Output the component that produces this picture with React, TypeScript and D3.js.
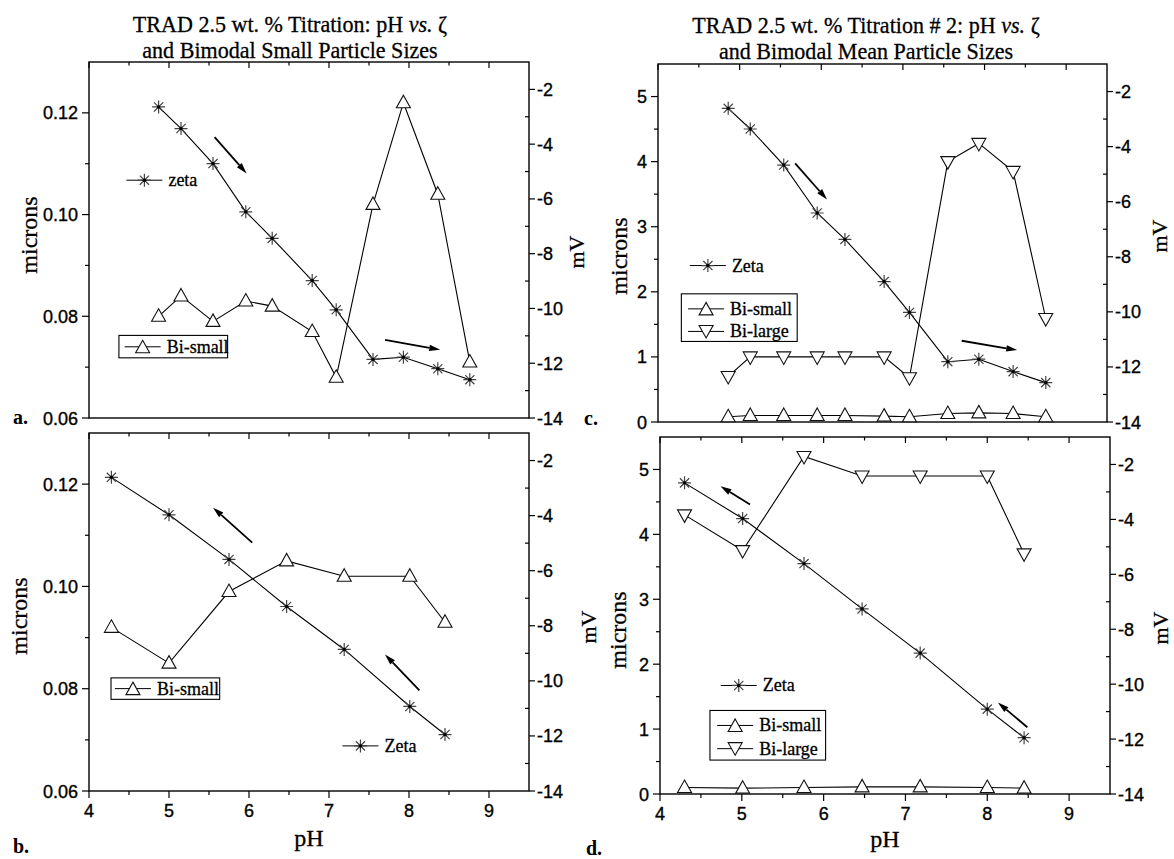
import React from 'react';
import * as d3 from 'd3';

// panel a: titration, zeta + bimodal small
const phA = [4.87, 5.15, 5.55, 5.96, 6.29, 6.79, 7.09, 7.55, 7.93, 8.36, 8.76];
const zetaA = [-2.64, -3.43, -4.71, -6.47, -7.44, -8.98, -10.05, -11.86, -11.78, -12.2, -12.6];
const smallA = [0.080, 0.084, 0.079, 0.083, 0.082, 0.077, 0.068, 0.102, 0.122, 0.104, 0.071];

// panel b: back titration
const phB = [4.28, 5.0, 5.75, 6.47, 7.19, 8.01, 8.45];
const zetaB = [-2.61, -3.97, -5.59, -7.3, -8.86, -10.93, -11.95];
const smallB = [0.092, 0.085, 0.099, 0.105, 0.102, 0.102, 0.093];

// panel c: titration # 2
const phC = [4.86, 5.13, 5.54, 5.95, 6.29, 6.77, 7.08, 7.55, 7.93, 8.35, 8.75];
const zetaC = [-2.61, -3.36, -4.67, -6.41, -7.37, -8.9, -10.02, -11.81, -11.72, -12.17, -12.57];
const smallC = [0.08, 0.1, 0.1, 0.1, 0.1, 0.09, 0.08, 0.13, 0.14, 0.13, 0.08];
const largeC = [0.7, 1.0, 1.0, 1.0, 1.0, 1.0, 0.68, 4.0, 4.28, 3.85, 1.59];

// panel d: back titration # 2
const phD = [4.3, 5.01, 5.76, 6.47, 7.18, 8.0, 8.45];
const zetaD = [-2.67, -3.97, -5.61, -7.26, -8.87, -10.91, -11.95];
const smallD = [0.1, 0.09, 0.1, 0.11, 0.11, 0.1, 0.09];
const largeD = [4.3, 3.75, 5.2, 4.9, 4.9, 4.9, 3.7];

// ticks
const phTicks = [4, 5, 6, 7, 8, 9];
const phMinor = [4.5, 5.5, 6.5, 7.5, 8.5];
const mvTicks = [-14, -12, -10, -8, -6, -4, -2];
const mvMinor = [-13, -11, -9, -7, -5, -3];
const micronTicksAB = [0.06, 0.08, 0.10, 0.12];
const micronMinorAB = [0.07, 0.09, 0.11];
const micronTicksCD = [0, 1, 2, 3, 4, 5];
const micronMinorCD = [0.5, 1.5, 2.5, 3.5, 4.5];

// arrows: [pH0, mV0, pH1, mV1]
const arrowsA = [[5.57, -3.74, 5.97, -5.07], [7.70, -11.15, 8.39, -11.51]];
const arrowsB = [[6.04, -4.98, 5.55, -3.71], [8.13, -10.35, 7.70, -9.04]];
const arrowsC = [[5.68, -4.61, 6.07, -5.92], [7.72, -11.05, 8.40, -11.39]];
const arrowsD = [[5.10, -3.46, 4.74, -2.79], [8.49, -11.57, 8.13, -10.67]];

const sans = "'Liberation Sans', Arial, sans-serif";
const serif = "'Liberation Serif', 'Times New Roman', serif";

const panels = [
  {
    box: [89, 62, 529, 418], yDomain: [0.06, 0.13], yTicks: micronTicksAB, yMinor: micronMinorAB,
    fmt: d3.format('.2f'), ph: phA, zeta: zetaA, small: smallA, large: null, arrows: arrowsA,
    bottom: false, zetaLeg: { x: 0.085, y: 0.332, label: 'zeta' },
    box2: { x0: 0.068, y0: 0.768, x1: 0.315, y1: 0.831, lx: 0.081, rows: [0.80] },
    letter: 'a.', letterPos: [13, 424],
    micronsPos: [29, 235], mvPos: [576, 252], phPos: null,
  },
  {
    box: [89, 433, 529, 791], yDomain: [0.06, 0.13], yTicks: micronTicksAB, yMinor: micronMinorAB,
    fmt: d3.format('.2f'), ph: phB, zeta: zetaB, small: smallB, large: null, arrows: arrowsB,
    bottom: true, zetaLeg: { x: 0.576, y: 0.874, label: 'Zeta' },
    box2: { x0: 0.050, y0: 0.684, x1: 0.297, y1: 0.744, lx: 0.059, rows: [0.714] },
    letter: 'b.', letterPos: [13, 853],
    micronsPos: [19, 616], mvPos: [588, 627], phPos: [309, 846],
  },
  {
    box: [658, 64, 1107, 422], yDomain: [0, 5.5], yTicks: micronTicksCD, yMinor: micronMinorCD,
    fmt: d3.format('d'), ph: phC, zeta: zetaC, small: smallC, large: largeC, arrows: arrowsC,
    bottom: false, zetaLeg: { x: 0.071, y: 0.563, label: 'Zeta' },
    box2: { x0: 0.052, y0: 0.642, x1: 0.310, y1: 0.775, lx: 0.067, rows: [0.684, 0.747] },
    letter: 'c.', letterPos: [584, 425],
    micronsPos: [619, 256], mvPos: [1159, 236], phPos: null,
  },
  {
    box: [660, 437, 1110, 794], yDomain: [0, 5.5], yTicks: micronTicksCD, yMinor: micronMinorCD,
    fmt: d3.format('d'), ph: phD, zeta: zetaD, small: smallD, large: largeD, arrows: arrowsD,
    bottom: true, zetaLeg: { x: 0.135, y: 0.696, label: 'Zeta' },
    box2: { x0: 0.111, y0: 0.766, x1: 0.368, y1: 0.905, lx: 0.127, rows: [0.808, 0.873] },
    letter: 'd.', letterPos: [586, 855],
    micronsPos: [618, 630], mvPos: [1160, 628], phPos: [885, 847],
  },
];

function starPath(cx, cy, r = 6.5) {
  const p = d3.path();
  [0, 45, 90, 135].forEach(a => {
    const t = (a * Math.PI) / 180;
    p.moveTo(cx + r * Math.cos(t), cy + r * Math.sin(t));
    p.lineTo(cx - r * Math.cos(t), cy - r * Math.sin(t));
  });
  return p.toString();
}

function triPath(cx, cy, up) {
  const s = up ? 1 : -1;
  return `M${cx},${cy - 7.5 * s}L${cx + 7},${cy + 5 * s}L${cx - 7},${cy + 5 * s}Z`;
}

function Star({ x, y }) {
  return (
    <g>
      <path d={starPath(x, y)} stroke="#444" strokeWidth={1.2} fill="none" />
      <circle cx={x} cy={y} r={1.7} fill="#000" />
    </g>
  );
}

function Tri({ x, y, up }) {
  return <path d={triPath(x, y, up)} fill="#fff" stroke="#111" strokeWidth={1.1} />;
}

function Arrow({ x0, y0, x1, y1 }) {
  const a = Math.atan2(y1 - y0, x1 - x0);
  const len = 11, hw = 3.2;
  const bx = x1 - len * Math.cos(a), by = y1 - len * Math.sin(a);
  const nx = -Math.sin(a), ny = Math.cos(a);
  return (
    <g>
      <line x1={x0} y1={y0} x2={bx} y2={by} stroke="#000" strokeWidth={1.8} />
      <path d={`M${x1},${y1}L${bx + nx * hw},${by + ny * hw}L${bx - nx * hw},${by - ny * hw}Z`} fill="#000" />
    </g>
  );
}

const tickText = { fontFamily: sans, fontSize: 18, stroke: '#000', strokeWidth: 0.35 };
const serifText = { fontFamily: serif, stroke: '#000', strokeWidth: 0.3 };

function Panel({ p }) {
  const [L, T, R, B] = p.box;
  const w = R - L, h = B - T;
  const x = d3.scaleLinear().domain([4, 9.5]).range([L, R]);
  const yl = d3.scaleLinear().domain(p.yDomain).range([B, T]);
  const yr = d3.scaleLinear().domain([-14, -1]).range([B, T]);
  const line = d3.line();

  const zetaPts = p.ph.map((v, i) => [x(v), yr(p.zeta[i])]);
  const smallPts = p.ph.map((v, i) => [x(v), yl(p.small[i])]);
  const largePts = p.large ? p.ph.map((v, i) => [x(v), yl(p.large[i])]) : null;

  const zl = { x: L + p.zetaLeg.x * w, y: T + p.zetaLeg.y * h };
  const bx = p.box2;
  const legRows = [{ label: 'Bi-small', up: true }, { label: 'Bi-large', up: false }].slice(0, bx.rows.length);

  return (
    <g>
      {/* frame */}
      <rect x={L} y={T} width={w} height={h} fill="none" stroke="#000" strokeWidth={1.4} />

      {/* top ticks, inward */}
      {phTicks.map(t => <line key={'tt' + t} x1={x(t)} x2={x(t)} y1={T} y2={T + 6} stroke="#000" strokeWidth={1.2} />)}
      {phMinor.map(t => <line key={'tm' + t} x1={x(t)} x2={x(t)} y1={T} y2={T + 3.5} stroke="#000" strokeWidth={1.2} />)}

      {/* bottom ticks + labels */}
      {p.bottom && phTicks.map(t => (
        <g key={'bt' + t}>
          <line x1={x(t)} x2={x(t)} y1={B} y2={B + 7} stroke="#000" strokeWidth={1.2} />
          <text x={x(t)} y={B + 26} textAnchor="middle" {...tickText}>{t}</text>
        </g>
      ))}
      {p.bottom && phMinor.map(t => <line key={'bm' + t} x1={x(t)} x2={x(t)} y1={B} y2={B + 4} stroke="#000" strokeWidth={1.2} />)}

      {/* left axis */}
      {p.yTicks.map(t => (
        <g key={'lt' + t}>
          <line x1={L - 7} x2={L} y1={yl(t)} y2={yl(t)} stroke="#000" strokeWidth={1.2} />
          <text x={L - 11} y={yl(t) + 6.5} textAnchor="end" {...tickText}>{p.fmt(t)}</text>
        </g>
      ))}
      {p.yMinor.map(t => <line key={'lm' + t} x1={L - 4} x2={L} y1={yl(t)} y2={yl(t)} stroke="#000" strokeWidth={1.2} />)}

      {/* right axis */}
      {mvTicks.map(t => (
        <g key={'rt' + t}>
          <line x1={R} x2={R + 6} y1={yr(t)} y2={yr(t)} stroke="#000" strokeWidth={1.2} />
          <text x={R + 8} y={yr(t) + 6.5} textAnchor="start" {...tickText}>{String(t)}</text>
        </g>
      ))}
      {mvMinor.map(t => <line key={'rm' + t} x1={R - 4} x2={R} y1={yr(t)} y2={yr(t)} stroke="#000" strokeWidth={1.2} />)}

      {/* series lines */}
      {largePts && <path d={line(largePts)} fill="none" stroke="#000" strokeWidth={1.1} />}
      <path d={line(smallPts)} fill="none" stroke="#000" strokeWidth={1.1} />
      <path d={line(zetaPts)} fill="none" stroke="#000" strokeWidth={1.1} />

      {/* markers */}
      {largePts && largePts.map((d, i) => <Tri key={'lg' + i} x={d[0]} y={d[1]} up={false} />)}
      {smallPts.map((d, i) => <Tri key={'sm' + i} x={d[0]} y={d[1]} up={true} />)}
      {zetaPts.map((d, i) => <Star key={'z' + i} x={d[0]} y={d[1]} />)}

      {/* arrows */}
      {p.arrows.map((a, i) => <Arrow key={'ar' + i} x0={x(a[0])} y0={yr(a[1])} x1={x(a[2])} y1={yr(a[3])} />)}

      {/* zeta legend */}
      <line x1={zl.x} x2={zl.x + 36} y1={zl.y} y2={zl.y} stroke="#000" strokeWidth={1} />
      <Star x={zl.x + 18} y={zl.y} />
      <text x={zl.x + 42} y={zl.y + 6} fontSize={18} {...serifText}>{p.zetaLeg.label}</text>

      {/* size legend box */}
      <rect x={L + bx.x0 * w} y={T + bx.y0 * h} width={(bx.x1 - bx.x0) * w} height={(bx.y1 - bx.y0) * h}
        fill="#fff" stroke="#000" strokeWidth={1.1} />
      {legRows.map((r, i) => {
        const lx = L + bx.lx * w, ly = T + bx.rows[i] * h;
        return (
          <g key={'lr' + i}>
            <line x1={lx} x2={lx + 36} y1={ly} y2={ly} stroke="#000" strokeWidth={1} />
            <Tri x={lx + 18} y={ly + (r.up ? 1 : -1)} up={r.up} />
            <text x={lx + 42} y={ly + 6} fontSize={18} {...serifText}>{r.label}</text>
          </g>
        );
      })}

      {/* axis titles */}
      <text transform={`translate(${p.micronsPos[0]},${p.micronsPos[1]}) rotate(-90)`} textAnchor="middle"
        dominantBaseline="central" fontSize={24} {...serifText}>microns</text>
      <text transform={`translate(${p.mvPos[0]},${p.mvPos[1]}) rotate(-90)`} textAnchor="middle"
        dominantBaseline="central" fontSize={22} {...serifText}>mV</text>
      {p.phPos && <text x={p.phPos[0]} y={p.phPos[1]} textAnchor="middle" fontSize={24} {...serifText}>pH</text>}
      <text x={p.letterPos[0]} y={p.letterPos[1]} fontFamily={serif} fontWeight="bold" fontSize={20}>{p.letter}</text>
    </g>
  );
}

function Title({ x, y, children }) {
  // the scanned title font is slightly condensed
  return (
    <text transform={`translate(${x},${y}) scale(0.92,1)`} textAnchor="middle" fontSize={24} {...serifText}>
      {children}
    </text>
  );
}

export default function App() {
  return (
    <svg width={1174} height={859} style={{ position: 'absolute', left: 0, top: 0, background: '#fff' }}>
      <rect width={1174} height={859} fill="#fff" />
      <Title x={290} y={32}>TRAD 2.5 wt. % Titration: pH <tspan fontStyle="italic">vs.</tspan> ζ</Title>
      <Title x={290} y={58}>and Bimodal Small Particle Sizes</Title>
      <Title x={866} y={33}>TRAD 2.5 wt. % Titration # 2: pH <tspan fontStyle="italic">vs.</tspan> ζ</Title>
      <Title x={866} y={59}>and Bimodal Mean Particle Sizes</Title>
      {panels.map((p, i) => <Panel key={i} p={p} />)}
    </svg>
  );
}
